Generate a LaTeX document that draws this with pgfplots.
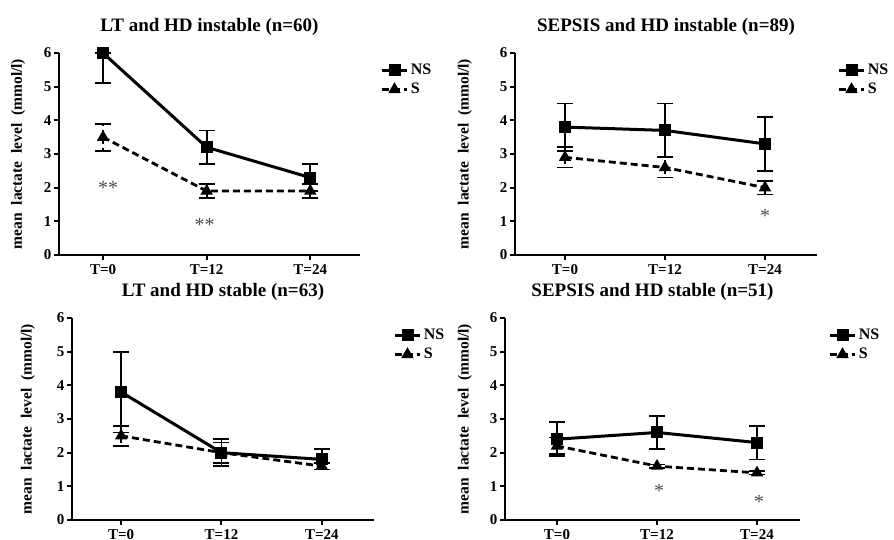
\documentclass[border=0pt]{standalone}
\usepackage{pgfplots}
\pgfplotsset{compat=1.18}
\usepackage{fontspec}
\setmainfont{Liberation Serif}
\tikzset{star/.style={font=\fontsize{20}{20}\selectfont, text=black!70}}
\pgfplotsset{
  panel/.style={
    scale only axis, height=202pt, ymin=0, ymax=6, ytick={0,1,...,6},
    xtick={0,1,2}, xticklabels={T=0,T=12,T=24},
    axis lines*=left, axis line style={line width=2.6pt,-},
    tick style={line width=2pt,black}, major tick length=5pt, tick align=outside,
    clip=false,
    /pgf/number format/assume math mode=true,
    ticklabel style={font=\bfseries\fontsize{15}{15}\selectfont},
    yticklabel style={xshift=1pt},
    xticklabel style={yshift=-1pt},
    ylabel={mean\ \ lactate\ \ level\ \ (mmol/l)},
    ylabel style={font=\bfseries\fontsize{15.5}{15.5}\selectfont, anchor=center},
    title style={font=\bfseries\fontsize{19}{19}\selectfont, at={(axis description cs:0.5,1)}, anchor=center, yshift=20pt},
    legend style={draw=none, fill=none, inner sep=0pt, anchor=north west,
      font=\bfseries\fontsize{16}{16}\selectfont, row sep=3pt,
      legend cell align=left},
    legend image code/.code={\draw[mark repeat=2,mark phase=2] plot coordinates {(0cm,0cm)(0.45cm,0cm)(0.9cm,0cm)};},
    error bars/y dir=both, error bars/y explicit,
    error bars/error mark options={rotate=90, mark size=8pt, line width=1.8pt, black},
    error bars/error bar style={line width=1.8pt, black},
  },
  ns/.style={black, line width=3pt, mark=square*, mark size=4.5pt, mark options={solid}},
  s/.style={black, line width=2.8pt, dash pattern=on 7pt off 4pt, mark=triangle*, mark size=4.4pt, mark options={solid}},
}
\begin{document}
\begin{tikzpicture}
\useasboundingbox (0pt,0pt) rectangle (894pt,539pt);
% Panel 1
\begin{axis}[panel, at={(59pt,284pt)}, anchor=south west, width=301pt,
  xmin=-0.425, xmax=2.48, title={LT and HD instable (n=60)},
  ylabel style={at={(axis description cs:-0.136,0.5)}},
  legend style={at={(axis description cs:1,0.955)}, xshift=20pt}]
\addplot[ns] coordinates {(0,6.0) += (0,0) -= (0,0.9) (1,3.2) +- (0,0.5) (2,2.3) +- (0,0.4)};
\addlegendentry{NS}
\addplot[s] coordinates {(0,3.5) +- (0,0.4) (1,1.9) +- (0,0.2) (2,1.9) +- (0,0.2)};
\addlegendentry{S}
\node[star] at (axis cs:0.05,2.0) {**};
\node[star] at (axis cs:0.98,0.9) {**};
\end{axis}
% Panel 2
\begin{axis}[panel, at={(515pt,284pt)}, anchor=south west, width=302pt,
  xmin=-0.5, xmax=2.52, title={SEPSIS and HD instable (n=89)},
  ylabel style={at={(axis description cs:-0.166,0.5)}},
  legend style={at={(axis description cs:1,0.955)}, xshift=20pt}]
\addplot[ns] coordinates {(0,3.8) +- (0,0.7) (1,3.7) +- (0,0.8) (2,3.3) +- (0,0.8)};
\addlegendentry{NS}
\addplot[s] coordinates {(0,2.9) +- (0,0.3) (1,2.6) +- (0,0.3) (2,2.0) +- (0,0.2)};
\addlegendentry{S}
\node[star] at (axis cs:2,1.15) {*};
\end{axis}
% Panel 3
\begin{axis}[panel, at={(72pt,19pt)}, anchor=south west, width=302pt,
  xmin=-0.49, xmax=2.52, title={LT and HD stable (n=63)},
  ylabel style={at={(axis description cs:-0.146,0.5)}},
  legend style={at={(axis description cs:1,0.955)}, xshift=19pt}]
\addplot[ns] coordinates {(0,3.8) +- (0,1.2) (1,2.0) +- (0,0.4) (2,1.8) +- (0,0.3)};
\addlegendentry{NS}
\addplot[s] coordinates {(0,2.5) +- (0,0.3) (1,2.0) +- (0,0.3) (2,1.6) +- (0,0.1)};
\addlegendentry{S}
\end{axis}
% Panel 4
\begin{axis}[panel, at={(505pt,19pt)}, anchor=south west, width=295pt,
  xmin=-0.52, xmax=2.43, title={SEPSIS and HD stable (n=51)},
  ylabel style={at={(axis description cs:-0.136,0.5)}},
  legend style={at={(axis description cs:1,0.955)}, xshift=28pt}]
\addplot[ns] coordinates {(0,2.4) +- (0,0.5) (1,2.6) +- (0,0.5) (2,2.3) +- (0,0.5)};
\addlegendentry{NS}
\addplot[s] coordinates {(0,2.2) +- (0,0.25) (1,1.6) +- (0,0.05) (2,1.4) +- (0,0.05)};
\addlegendentry{S}
\node[star] at (axis cs:1.02,0.85) {*};
\node[star] at (axis cs:2.02,0.53) {*};
\end{axis}
\end{tikzpicture}
\end{document}
